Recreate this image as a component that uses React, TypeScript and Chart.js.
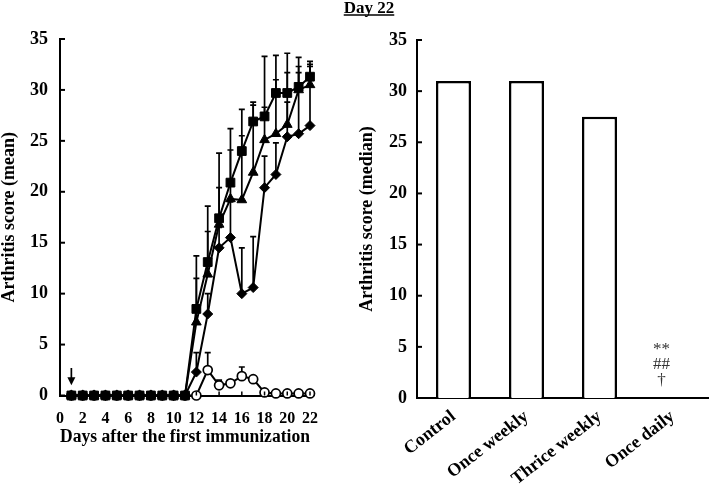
import React, { useEffect, useRef } from "react";
import { Chart, registerables } from "chart.js";
Chart.register(...registerables);

const FONT = "'Liberation Serif', 'Times New Roman', serif";

// ---- Left panel data (mean arthritis score by day) ----
const days = [1, 2, 3, 4, 5, 6, 7, 8, 9, 10, 11, 12, 13, 14, 15, 16, 17, 18, 19, 20, 21, 22];
const controlMean = [0, 0, 0, 0, 0, 0, 0, 0, 0, 0, 0, 8.5, 13.1, 17.4, 20.9, 24.0, 26.9, 27.4, 29.7, 29.7, 30.3, 31.3];
const controlUpper = [null, null, null, null, null, null, null, null, null, null, null, 13.7, 18.6, 23.8, 26.2, 28.1, 28.8, 33.3, 33.4, 33.6, 33.2, 32.8];
const onceWeeklyMean = [0, 0, 0, 0, 0, 0, 0, 0, 0, 0, 0, 7.2, 11.9, 16.8, 19.3, 19.2, 21.9, 25.1, 25.7, 26.6, 30.0, 30.5];
const onceWeeklyUpper = [null, null, null, null, null, null, null, null, null, null, null, 11.5, 16.1, 20.4, 24.1, 25.5, 28.5, 28.3, 31.0, 31.7, 32.3, 32.5];
const thriceWeeklyMean = [0, 0, 0, 0, 0, 0, 0, 0, 0, 0, 0, 2.3, 8.0, 14.5, 15.5, 10.0, 10.6, 20.4, 21.7, 25.4, 25.7, 26.5];
const thriceWeeklyUpper = [null, null, null, null, null, null, null, null, null, null, null, 4.2, 10.0, 16.5, 19.0, 14.5, 15.6, 23.5, 24.8, 28.8, 31.7, 32.3];
const onceDailyMean = [0, 0, 0, 0, 0, 0, 0, 0, 0, 0, 0, 0, 2.5, 1.0, 1.2, 1.9, 1.6, 0.3, 0.2, 0.2, 0.2, 0.2];
const onceDailyUpper = [null, null, null, null, null, null, null, null, null, null, null, null, 4.2, 1.5, null, 2.8, null, null, null, null, null, null];
const arrowDay = 1;
const arrowFromY = 2.7;
const arrowToY = 1.0;

// ---- Right panel data (median at day 22) ----
const groups = ["Control", "Once weekly", "Thrice weekly", "Once daily"];
const medianDay22 = [31.0, 31.0, 27.5, 0];
const sigMarks = ["**", "##", "\u2020"];
const sigGroupIndex = 3;
const panelTitle = "Day 22";

const pts = (vals: number[]) => vals.map((v, i) => ({ x: days[i], y: v }));

const errorBarPlugin = {
  id: "errorBars",
  beforeDatasetsDraw(chart: any) {
    const { ctx } = chart;
    const xs = chart.scales.x;
    const ys = chart.scales.y;
    ctx.save();
    ctx.strokeStyle = "#000";
    ctx.lineWidth = 1.7;
    chart.data.datasets.forEach((ds: any) => {
      const up = ds.upper as (number | null)[];
      if (!up) return;
      ds.data.forEach((p: any, i: number) => {
        const u = up[i];
        if (u == null) return;
        const px = xs.getPixelForValue(p.x);
        const py = ys.getPixelForValue(p.y);
        const pu = ys.getPixelForValue(u);
        ctx.beginPath();
        ctx.moveTo(px, py);
        ctx.lineTo(px, pu);
        ctx.moveTo(px - 3, pu);
        ctx.lineTo(px + 3, pu);
        ctx.stroke();
      });
    });
    ctx.restore();
  },
};

const innerTicksPlugin = {
  id: "innerTicks",
  afterDraw(chart: any, _args: any, opts: any) {
    const { ctx, chartArea } = chart;
    const ys = chart.scales.y;
    const xs = chart.scales.x;
    ctx.save();
    ctx.strokeStyle = "#000";
    ctx.lineWidth = 2;
    ys.ticks.forEach((t: any) => {
      const py = ys.getPixelForValue(t.value);
      ctx.beginPath();
      ctx.moveTo(chartArea.left, py);
      ctx.lineTo(chartArea.left + 5, py);
      ctx.stroke();
    });
    if (opts && opts.xTicks) {
      ctx.lineWidth = 1.5;
      xs.ticks.forEach((t: any) => {
        const px = xs.getPixelForValue(t.value);
        ctx.beginPath();
        ctx.moveTo(px, chartArea.bottom);
        ctx.lineTo(px, chartArea.bottom - 4);
        ctx.stroke();
      });
    }
    ctx.restore();
  },
};

const arrowPlugin = {
  id: "arrowMark",
  afterDatasetsDraw(chart: any) {
    const { ctx } = chart;
    const xs = chart.scales.x;
    const ys = chart.scales.y;
    const px = xs.getPixelForValue(arrowDay);
    const y1 = ys.getPixelForValue(arrowFromY);
    const y2 = ys.getPixelForValue(arrowToY);
    ctx.save();
    ctx.strokeStyle = "#000";
    ctx.fillStyle = "#000";
    ctx.lineWidth = 1.7;
    ctx.beginPath();
    ctx.moveTo(px, y1);
    ctx.lineTo(px, y2 - 5);
    ctx.stroke();
    ctx.beginPath();
    ctx.moveTo(px - 4, y2 - 8);
    ctx.lineTo(px + 4, y2 - 8);
    ctx.lineTo(px, y2);
    ctx.closePath();
    ctx.fill();
    ctx.restore();
  },
};

const sigPlugin = {
  id: "sigMarks",
  afterDraw(chart: any) {
    const { ctx } = chart;
    const xs = chart.scales.x;
    const ys = chart.scales.y;
    const px = xs.getPixelForValue(sigGroupIndex) - 11;
    const base = ys.getPixelForValue(medianDay22[sigGroupIndex]);
    ctx.save();
    ctx.fillStyle = "#333";
    ctx.font = `17px ${FONT}`;
    ctx.textAlign = "center";
    ctx.textBaseline = "alphabetic";
    const n = sigMarks.length;
    sigMarks.forEach((s, i) => {
      const y = base - 13 - (n - 1 - i) * 16;
      ctx.fillText(s, px, y + (s === "**" ? 1 : 0));
    });
    ctx.restore();
  },
};

const titlePlugin = {
  id: "panelTitle",
  afterDraw(chart: any) {
    const { ctx, chartArea } = chart;
    ctx.save();
    ctx.fillStyle = "#000";
    ctx.font = `bold 17px ${FONT}`;
    ctx.textAlign = "center";
    ctx.textBaseline = "alphabetic";
    const cx = chartArea.left - 48;
    ctx.fillText(panelTitle, cx, 12.5);
    const w = ctx.measureText(panelTitle).width;
    ctx.strokeStyle = "#000";
    ctx.lineWidth = 1.5;
    ctx.beginPath();
    ctx.moveTo(cx - w / 2, 15);
    ctx.lineTo(cx + w / 2, 15);
    ctx.stroke();
    ctx.restore();
  },
};

function LeftChart() {
  const ref = useRef<HTMLCanvasElement>(null);
  useEffect(() => {
    const mk = (label: string, vals: number[], upper: (number | null)[], style: any, r: number, fill: string, bw: number) => ({
      label,
      data: pts(vals),
      upper,
      borderColor: "#000",
      borderWidth: 2,
      pointStyle: style,
      pointRadius: r,
      pointBackgroundColor: fill,
      pointBorderColor: "#000",
      pointBorderWidth: bw,
      clip: false,
      tension: 0,
    });
    const chart = new Chart(ref.current!, {
      type: "line",
      data: {
        datasets: [
          mk("Control", controlMean, controlUpper, "rect", 6.2, "#000", 1),
          mk("Once weekly", onceWeeklyMean, onceWeeklyUpper, "triangle", 5.6, "#000", 1),
          mk("Thrice weekly", thriceWeeklyMean, thriceWeeklyUpper, "rectRot", 5, "#000", 1),
          mk("Once daily", onceDailyMean, onceDailyUpper, "circle", 4.5, "#fff", 1.7),
        ] as any,
      },
      options: {
        animation: false,
        responsive: false,
        layout: { padding: { top: 39, right: 25, left: 0, bottom: 0 } },
        plugins: { legend: { display: false }, tooltip: { enabled: false }, innerTicks: { xTicks: true } } as any,
        scales: {
          x: {
            type: "linear",
            min: 0,
            max: 22,
            grid: { display: false, drawTicks: false },
            border: { display: true, color: "#000", width: 2 },
            ticks: { stepSize: 2, color: "#000", padding: 14, font: { family: FONT, size: 16, weight: "bold" } },
            title: { display: true, text: "Days after the first immunization", color: "#000", font: { family: FONT, size: 18.5, weight: "bold", lineHeight: 1 }, padding: { top: 0, bottom: 38 } },
            afterFit: (s: any) => { s.height = 88.5; },
          },
          y: {
            min: 0,
            max: 35,
            grid: { display: false, drawTicks: false },
            border: { display: true, color: "#000", width: 2 },
            ticks: { stepSize: 5, color: "#000", padding: 12, font: { family: FONT, size: 18, weight: "bold" } },
            title: { display: true, text: "Arthritis score (mean)", color: "#000", font: { family: FONT, size: 18, weight: "bold", lineHeight: 1 }, padding: { top: 0, bottom: 0 } },
            afterFit: (s: any) => { s.width = 60; },
          },
        },
      } as any,
      plugins: [errorBarPlugin, innerTicksPlugin, arrowPlugin],
    });
    return () => chart.destroy();
  }, []);
  return <canvas ref={ref} width={335} height={484} style={{ position: "absolute", left: 0, top: 0, width: 335, height: 484 }} />;
}

function RightChart() {
  const ref = useRef<HTMLCanvasElement>(null);
  useEffect(() => {
    const chart = new Chart(ref.current!, {
      type: "bar",
      data: {
        labels: groups,
        datasets: [
          {
            label: "Median",
            data: medianDay22,
            backgroundColor: "#fff",
            borderColor: "#000",
            borderWidth: 2.5,
            categoryPercentage: 1,
            barPercentage: 0.48,
          },
        ],
      },
      options: {
        animation: false,
        responsive: false,
        layout: { padding: { top: 40, right: 0, left: 0, bottom: 0 } },
        plugins: { legend: { display: false }, tooltip: { enabled: false } },
        scales: {
          x: {
            grid: { display: false, drawTicks: false },
            border: { display: true, color: "#000", width: 2 },
            ticks: { color: "#000", padding: 8, minRotation: 38, maxRotation: 38, autoSkip: false, font: { family: FONT, size: 18, weight: "bold" } },
            afterFit: (s: any) => { s.height = 86; },
          },
          y: {
            min: 0,
            max: 35,
            grid: { display: false, drawTicks: false },
            border: { display: true, color: "#000", width: 2 },
            ticks: { stepSize: 5, color: "#000", padding: 10, font: { family: FONT, size: 18, weight: "bold" } },
            title: { display: true, text: "Arthritis score (median)", color: "#000", font: { family: FONT, size: 18, weight: "bold", lineHeight: 1 }, padding: { top: 28, bottom: 0 } },
            afterFit: (s: any) => { s.width = 87; },
          },
        },
      } as any,
      plugins: [innerTicksPlugin, sigPlugin, titlePlugin],
    });
    return () => chart.destroy();
  }, []);
  return <canvas ref={ref} width={379} height={484} style={{ position: "absolute", left: 330, top: 0, width: 379, height: 484 }} />;
}

export default function App() {
  return (
    <div style={{ position: "absolute", left: 0, top: 0, width: 709, height: 484, background: "#fff", overflow: "hidden" }}>
      <LeftChart />
      <RightChart />
    </div>
  );
}
